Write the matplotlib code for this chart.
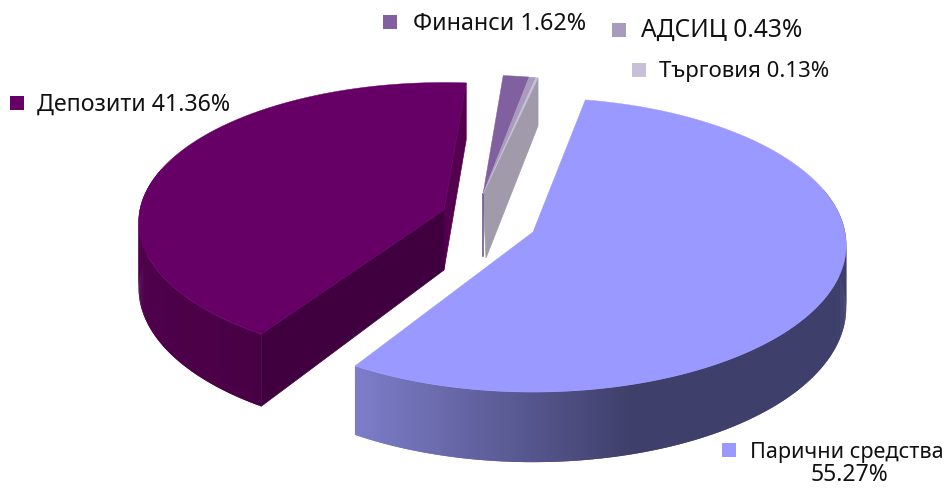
import numpy as np
import matplotlib
matplotlib.use("Agg")
import matplotlib.pyplot as plt
from matplotlib.patches import Rectangle
from matplotlib.colors import to_rgb

categories = ["Парични средства", "Депозити", "Финанси", "АДСИЦ", "Търговия"]
shares = [55.27, 41.36, 1.62, 0.43, 0.13]
labels = ["Парични средства\n55.27%", "Депозити 41.36%", "Финанси 1.62%", "АДСИЦ 0.43%", "Търговия 0.13%"]

top_colors = ["#9999ff", "#660066", "#80609f", "#a99bbd", "#c7c0d7"]
# colours of the outer rim, left end and right end of the shading
rim_colors = [("#7c7cc8", "#3f3f6b"), ("#4f004b", "#480044")]

# pie layout in pixels
start_angle = 10.5
angle_shift = [0, 2, 2, 2, 2]
apex = [(533, 232), (444, 210), (483, 194), (483, 194), (483, 194)]
scale_x = [1.0, 0.975, 0.885, 0.885, 0.885]
scale_y = [1.0, 0.95, 0.885, 0.885, 0.885]
scale_depth = [1.0, 1.05, 0.885, 0.885, 0.885]
radius_x = 312
radius_y = 146
persp = 0.088
depth = 62

# legend layout: marker x, marker y, text x, text baseline, font size
legend_pos = [(722, 443, 750, 458, 15.6), (10, 96, 37, 111, 16.7), (383, 15, 413, 30, 16.8),
              (612, 23, 641, 37, 17.7), (632, 63, 659, 77, 16.0)]

plt.rcParams['font.family'] = ['Noto Sans', 'DejaVu Sans']
fig = plt.figure(figsize=(9.5, 4.88), dpi=100)
ax = fig.add_axes([0, 0, 1, 1])
ax.set_xlim(0, 950)
ax.set_ylim(488, 0)
ax.axis('off')


def project(i, angle, down=False):
    # angle runs clockwise from the top, down=True gives the lower edge of the disc
    u = np.sin(np.radians(angle))
    v = np.cos(np.radians(angle))
    w = 1 + persp * v
    x = apex[i][0] + scale_x[i] * radius_x * u / w
    y = apex[i][1] - scale_y[i] * radius_y * v / w
    if down:
        y = y + depth * (1 - 0.13 * v) * scale_depth[i]
    return x, y


def mix(c1, c2, t):
    t = np.clip(t, 0, 1)
    return tuple((1 - t) * np.array(to_rgb(c1)) + t * np.array(to_rgb(c2)))


fractions = np.array(shares) / sum(shares)
ends = start_angle + np.cumsum(fractions) * 360 + np.array(angle_shift)
starts = ends - fractions * 360

# cut faces and rims first, the top faces go over them
for i in [1, 2, 3, 4, 0]:
    a0, a1 = starts[i], ends[i]
    ax0, ay0 = apex[i]
    if i == 1:
        x, y = project(i, a0)
        xd, yd = project(i, a0, True)
        ax.fill([ax0, x, xd, ax0], [ay0, y, yd, ay0 + 60], color="#400040", lw=0.5, zorder=3)
        x, y = project(i, a1)
        xd, yd = project(i, a1, True)
        ax.fill([ax0, x, xd, ax0], [ay0, y, yd, ay0 + 60], color="#55004f", lw=0.5, zorder=1)
    if i == 4:
        x, y = project(i, a1)
        xd, yd = project(i, a1, True)
        ax.fill([ax0, x, xd, ax0 + 3], [ay0, y, yd, ay0 + 64], color="#a09aaa", lw=0.5, zorder=2)
    if i == 2:
        ax.plot([ax0, ax0], [ay0, ay0 + 62], color="#6b5a8a", lw=1.2, zorder=3)

    if i in [0, 1]:
        angles = np.linspace(a0, a1, int((a1 - a0) * 2) + 1)
        for k in range(len(angles) - 1):
            mid = (angles[k] + angles[k + 1]) / 2
            if np.cos(np.radians(mid)) > 0.3:
                continue
            # each piece runs on over the next one so no seams show
            a = angles[k]
            b = angles[min(k + 2, len(angles) - 1)]
            x0, y0 = project(i, a)
            x1, y1 = project(i, b)
            x2, y2 = project(i, b, True)
            x3, y3 = project(i, a, True)
            xm = (x0 + x1) / 2
            if i == 0:
                t = (xm - 360) / 270
            else:
                t = (xm - 140) / 120
            col = mix(rim_colors[i][0], rim_colors[i][1], t)
            ax.fill([x0, x1, x2, x3], [y0, y1, y2, y3], color=col, lw=0, zorder=2)

for i in range(len(shares)):
    angles = np.linspace(starts[i], ends[i], max(int((ends[i] - starts[i]) * 2), 3))
    xs, ys = project(i, angles)
    ax.fill(np.r_[apex[i][0], xs], np.r_[apex[i][1], ys], color=top_colors[i], lw=0.3, zorder=4)

for i, lab in enumerate(labels):
    mx, my, tx, ty, fs = legend_pos[i]
    ax.add_patch(Rectangle((mx, my), 14, 13.5, color=top_colors[i], lw=0, zorder=5))
    if "\n" in lab:
        first, second = lab.split("\n")
        ax.text(tx, ty, first, fontsize=fs, va='baseline', ha='left', color="#111111", zorder=6)
        ax.text(849, ty + 23, second, fontsize=16.5, va='baseline', ha='center', color="#111111", zorder=6)
    else:
        ax.text(tx, ty, lab, fontsize=fs, va='baseline', ha='left', color="#111111", zorder=6)

fig.savefig("out.png", dpi=100)
